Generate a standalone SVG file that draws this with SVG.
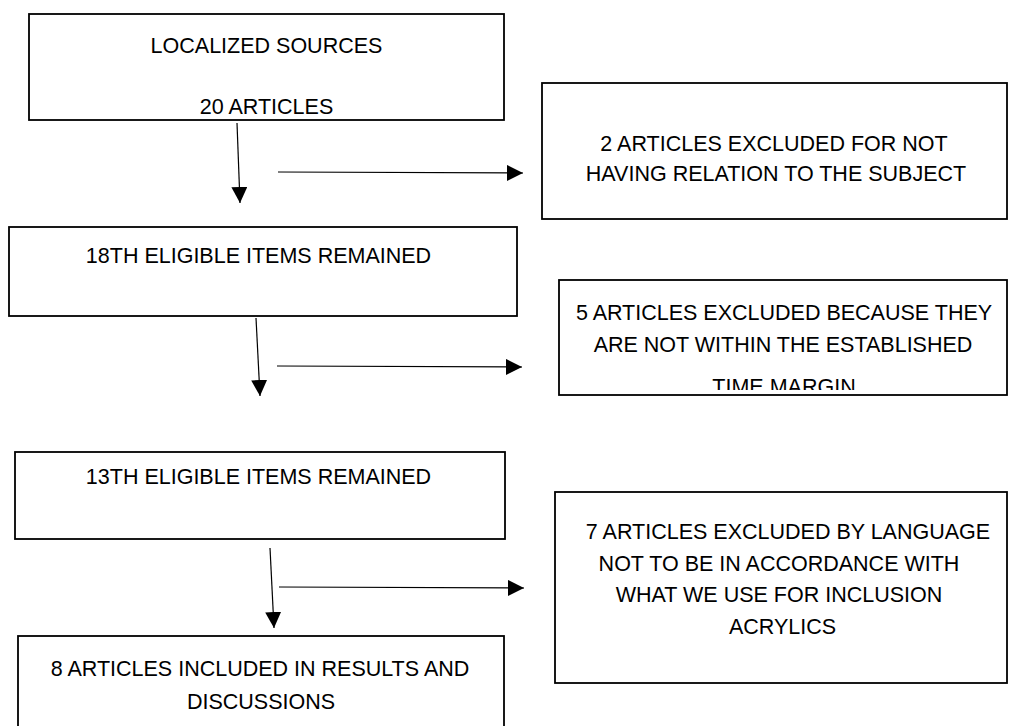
<svg xmlns="http://www.w3.org/2000/svg" width="1009" height="726" viewBox="0 0 1009 726">
<style>
.box{fill:#fff;stroke:#000;stroke-width:1.8}
.t{font-family:"Liberation Sans",Arial,sans-serif;font-size:21.5px;fill:#000;text-anchor:middle}
.c{stroke:#000;stroke-width:1.2;fill:none}
</style>
<defs>
<marker id="ah" markerUnits="userSpaceOnUse" markerWidth="16" markerHeight="16" refX="16" refY="8" orient="auto">
<path d="M0,0 L16,8 L0,16 z" fill="#000"/>
</marker>
<clipPath id="clip4"><rect x="560" y="360" width="446" height="30"/></clipPath>
</defs>
<rect width="1009" height="726" fill="#fff"/>
<g id="n1">
<rect class="box" x="29" y="14" width="475" height="106"/>
<text class="t" x="266.5" y="53">LOCALIZED SOURCES</text>
<text class="t" x="266.5" y="114">20 ARTICLES</text>
</g>
<g id="n2">
<rect class="box" x="542" y="83" width="465" height="136"/>
<text class="t" x="774" y="151">2 ARTICLES EXCLUDED FOR NOT</text>
<text class="t" x="776" y="181">HAVING RELATION TO THE SUBJECT</text>
</g>
<g id="n3">
<rect class="box" x="9" y="227" width="508" height="89"/>
<text class="t" x="258.5" y="263">18TH ELIGIBLE ITEMS REMAINED</text>
</g>
<g id="n4">
<rect class="box" x="559" y="280" width="448" height="115"/>
<text class="t" x="784" y="320">5 ARTICLES EXCLUDED BECAUSE THEY</text>
<text class="t" x="783" y="352">ARE NOT WITHIN THE ESTABLISHED</text>
<text class="t" x="784" y="394" clip-path="url(#clip4)">TIME MARGIN</text>
</g>
<g id="n5">
<rect class="box" x="15" y="452" width="490" height="87"/>
<text class="t" x="258.5" y="484">13TH ELIGIBLE ITEMS REMAINED</text>
</g>
<g id="n6">
<rect class="box" x="555" y="492" width="452" height="191"/>
<text class="t" x="788" y="539">7 ARTICLES EXCLUDED BY LANGUAGE</text>
<text class="t" x="779" y="571">NOT TO BE IN ACCORDANCE WITH</text>
<text class="t" x="779" y="602">WHAT WE USE FOR INCLUSION</text>
<text class="t" x="782.5" y="634">ACRYLICS</text>
</g>
<g id="n7">
<rect class="box" x="18" y="636" width="486" height="100"/>
<text class="t" x="260" y="676">8 ARTICLES INCLUDED IN RESULTS AND</text>
<text class="t" x="261" y="709">DISCUSSIONS</text>
</g>
<g id="connectors">
<line class="c" x1="237" y1="123" x2="240" y2="203" marker-end="url(#ah)"/>
<line class="c" x1="278" y1="172" x2="523" y2="173" marker-end="url(#ah)"/>
<line class="c" x1="256" y1="318" x2="260" y2="396" marker-end="url(#ah)"/>
<line class="c" x1="277" y1="366" x2="522" y2="367" marker-end="url(#ah)"/>
<line class="c" x1="270" y1="548" x2="274" y2="628" marker-end="url(#ah)"/>
<line class="c" x1="279" y1="587" x2="524" y2="588" marker-end="url(#ah)"/>
</g>
</svg>
